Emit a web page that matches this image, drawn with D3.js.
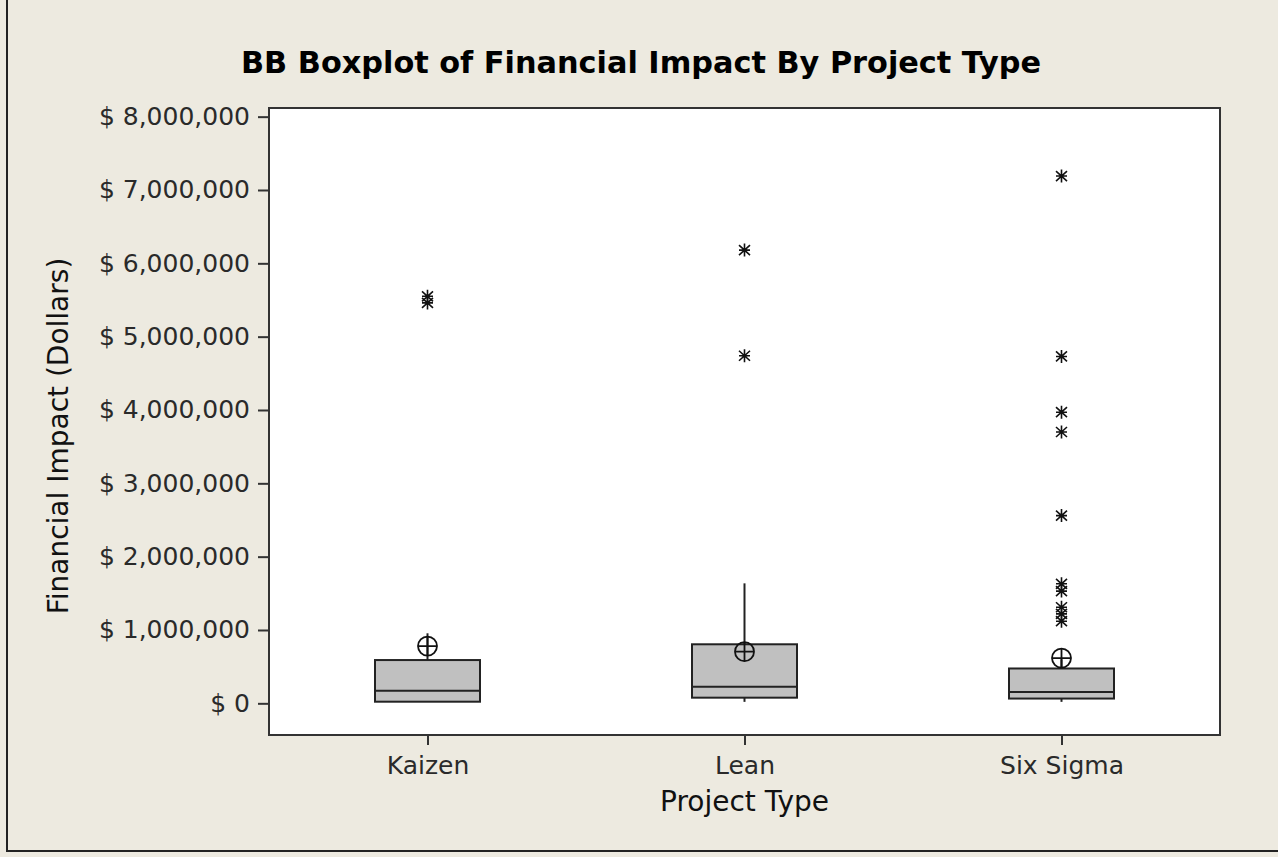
<!DOCTYPE html>
<html>
<head>
<meta charset="utf-8">
<script src="https://cdn.jsdelivr.net/npm/d3@7"></script>
<style>
  html, body { margin: 0; padding: 0; background: #EDEAE0; }
  svg { display: block; }
</style>
</head>
<body>
<div id="chart"></div>
<script>
// ---- Data ----
const categories = ["Kaizen", "Lean", "Six Sigma"];
const q1Values = [22000, 77000, 65000];
const medianValues = [172000, 227000, 156000];
const q3Values = [590000, 805000, 475000];
const whiskerLowValues = [22000, 20000, 20000];
const whiskerHighValues = [955000, 1636000, 600000];
const meanValues = [781000, 704000, 617000];
const kaizenOutliers = [5460000, 5550000];
const leanOutliers = [4740000, 6180000];
const sixSigmaOutliers = [1120000, 1220000, 1310000, 1530000, 1630000, 2560000, 3700000, 3970000, 4730000, 7190000];
const yTickValues = [0, 1000000, 2000000, 3000000, 4000000, 5000000, 6000000, 7000000, 8000000];

const titleText = "BB Boxplot of Financial Impact By Project Type";
const xTitleText = "Project Type";
const yTitleText = "Financial Impact (Dollars)";

// ---- Layout ----
const W = 1278, H = 857;
const plot = { left: 269, right: 1220, top: 108, bottom: 735 };
const boxWidth = 105;
const fontFam = "'DejaVu Sans', Verdana, sans-serif";

const svg = d3.select("#chart").append("svg")
  .attr("width", W).attr("height", H);

svg.append("rect").attr("x", 0).attr("y", 0).attr("width", W).attr("height", H)
  .attr("fill", "#EDEAE0");

// outer frame (left and bottom edges visible)
svg.append("path")
  .attr("d", `M7,-5V851H${W + 5}`)
  .attr("fill", "none").attr("stroke", "#222").attr("stroke-width", 2);

const x = d3.scalePoint().domain(categories).range([plot.left, plot.right]).padding(0.5);
const y = d3.scaleLinear().domain([-432000, 8118000]).range([plot.bottom, plot.top]);

// plot area
svg.append("rect")
  .attr("x", plot.left).attr("y", plot.top)
  .attr("width", plot.right - plot.left).attr("height", plot.bottom - plot.top)
  .attr("fill", "#fff").attr("stroke", "#333").attr("stroke-width", 2);

// Y axis
const yAxis = d3.axisLeft(y).tickValues(yTickValues).tickSize(11).tickPadding(8)
  .tickFormat(d => "$ " + d3.format(",")(d));
const gy = svg.append("g").attr("transform", `translate(${plot.left},0)`).call(yAxis);
gy.select(".domain").remove();
gy.selectAll(".tick line").attr("stroke", "#333").attr("stroke-width", 2);
gy.selectAll(".tick text").attr("fill", "#2a2a2a")
  .style("font-family", fontFam).style("font-size", "25px");

// X axis
const xAxis = d3.axisBottom(x).tickSize(10).tickPadding(12);
const gx = svg.append("g").attr("transform", `translate(0,${plot.bottom})`).call(xAxis);
gx.select(".domain").remove();
gx.selectAll(".tick line").attr("stroke", "#333").attr("stroke-width", 2);
gx.selectAll(".tick text").attr("fill", "#2a2a2a").attr("y", 39).attr("dy", 0)
  .style("font-family", fontFam).style("font-size", "25px");

// Title
svg.append("text")
  .attr("x", 641).attr("y", 73).attr("text-anchor", "middle")
  .attr("textLength", 800).attr("lengthAdjust", "spacingAndGlyphs")
  .style("font-family", fontFam)
  .style("font-weight", "bold").style("font-size", "31px").attr("fill", "#000")
  .text(titleText);

// Axis titles
svg.append("text")
  .attr("x", (plot.left + plot.right) / 2).attr("y", 811).attr("text-anchor", "middle")
  .style("font-family", fontFam).style("font-size", "28px")
  .attr("fill", "#111").text(xTitleText);

svg.append("text")
  .attr("transform", "translate(68,436) rotate(-90)").attr("text-anchor", "middle")
  .style("font-family", fontFam).style("font-size", "28px")
  .attr("fill", "#111").text(yTitleText);

// ---- Boxes ----
const stats = categories.map((c, i) => ({
  cat: c, q1: q1Values[i], med: medianValues[i], q3: q3Values[i],
  lo: whiskerLowValues[i], hi: whiskerHighValues[i], mean: meanValues[i]
}));
const outliers = [
  ...kaizenOutliers.map(v => ({ cat: "Kaizen", v })),
  ...leanOutliers.map(v => ({ cat: "Lean", v })),
  ...sixSigmaOutliers.map(v => ({ cat: "Six Sigma", v }))
];

const g = svg.append("g");
const ink = "#222";

// whiskers
g.selectAll("line.wh-hi").data(stats).join("line")
  .attr("x1", d => x(d.cat)).attr("x2", d => x(d.cat))
  .attr("y1", d => y(d.q3)).attr("y2", d => y(d.hi))
  .attr("stroke", ink).attr("stroke-width", 2);
g.selectAll("line.wh-lo").data(stats).join("line")
  .attr("x1", d => x(d.cat)).attr("x2", d => x(d.cat))
  .attr("y1", d => y(d.q1)).attr("y2", d => y(d.lo))
  .attr("stroke", ink).attr("stroke-width", 2);

// boxes
g.selectAll("rect.box").data(stats).join("rect")
  .attr("x", d => x(d.cat) - boxWidth / 2).attr("width", boxWidth)
  .attr("y", d => y(d.q3)).attr("height", d => y(d.q1) - y(d.q3))
  .attr("fill", "#C0C0C0").attr("stroke", ink).attr("stroke-width", 2);

// medians
g.selectAll("line.med").data(stats).join("line")
  .attr("x1", d => x(d.cat) - boxWidth / 2).attr("x2", d => x(d.cat) + boxWidth / 2)
  .attr("y1", d => y(d.med)).attr("y2", d => y(d.med))
  .attr("stroke", ink).attr("stroke-width", 2);

// mean symbols (circle with cross)
const meanG = g.selectAll("g.mean").data(stats).join("g")
  .attr("transform", d => `translate(${x(d.cat)},${y(d.mean)})`);
meanG.append("circle").attr("r", 9.5).attr("fill", "none")
  .attr("stroke", "#111").attr("stroke-width", 1.8);
meanG.append("path").attr("d", "M-9.5,0H9.5M0,-9.5V9.5")
  .attr("stroke", "#111").attr("stroke-width", 1.8);

// outliers (asterisks)
g.selectAll("path.out").data(outliers).join("path")
  .attr("transform", d => `translate(${x(d.cat)},${y(d.v)})`)
  .attr("d", "M0,-6.5V6.5M-5.5,-5L5.5,5M-5.5,5L5.5,-5M-5.5,0H5.5")
  .attr("fill", "none").attr("stroke", "#111").attr("stroke-width", 1.6);
</script>
</body>
</html>
